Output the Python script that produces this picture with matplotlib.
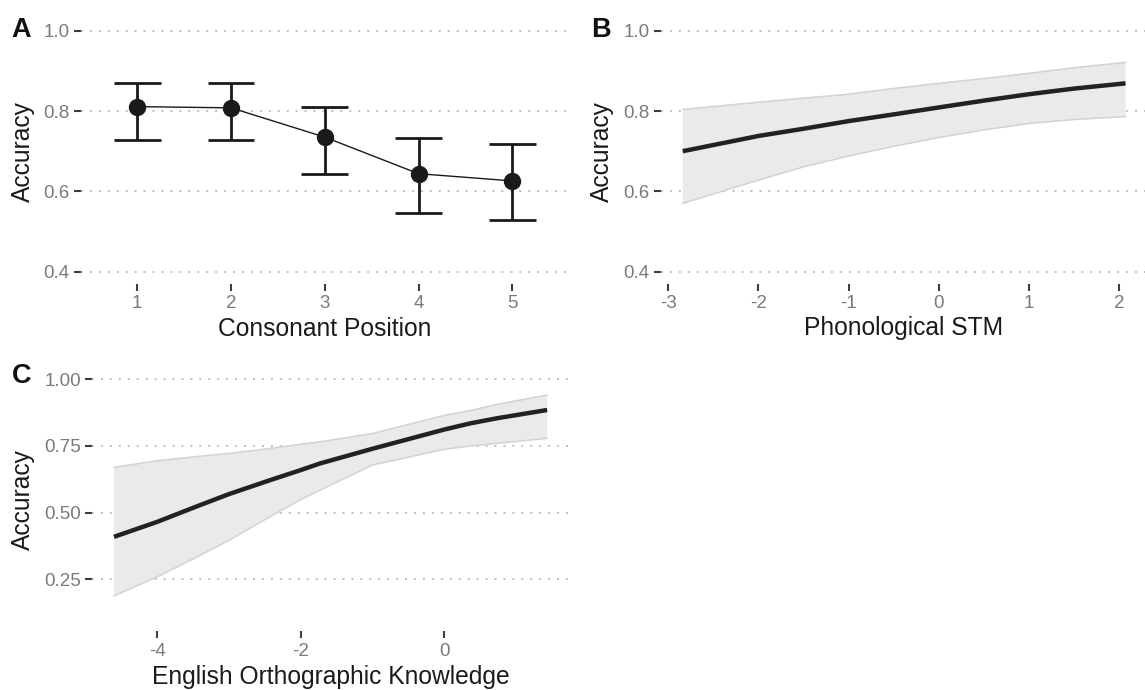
import matplotlib
matplotlib.use('Agg')
import matplotlib.pyplot as plt
import numpy as np

plt.rcParams['font.family'] = ['Liberation Sans', 'DejaVu Sans']
plt.rcParams['axes.unicode_minus'] = False

# Panel A: accuracy by consonant position (mean and interval)
pos = [1, 2, 3, 4, 5]
pos_acc = [0.811, 0.808, 0.735, 0.644, 0.626]
pos_lo = [0.729, 0.729, 0.644, 0.547, 0.528]
pos_hi = [0.869, 0.869, 0.809, 0.733, 0.717]

# Panel B: effect of phonological STM
stm_x = [-2.84, -2.0, -1.5, -1.0, -0.55, 0.0, 0.5, 1.0, 1.5, 2.07]
stm_fit = [0.700, 0.738, 0.756, 0.775, 0.790, 0.809, 0.826, 0.842, 0.856, 0.869]
stm_lo = [0.570, 0.628, 0.661, 0.688, 0.710, 0.734, 0.753, 0.769, 0.779, 0.786]
stm_hi = [0.804, 0.822, 0.832, 0.842, 0.855, 0.869, 0.881, 0.894, 0.908, 0.921]

# Panel C: effect of English orthographic knowledge
ortho_x = [-4.6, -4.0, -3.4, -3.0, -2.43, -2.0, -1.73, -1.0, 0.0, 0.36, 0.73, 1.43]
ortho_fit = [0.409, 0.465, 0.528, 0.569, 0.621, 0.659, 0.684, 0.739, 0.811, 0.834, 0.853, 0.884]
ortho_lo = [0.188, 0.259, 0.340, 0.396, 0.484, 0.549, 0.584, 0.678, 0.737, 0.749, 0.759, 0.778]
ortho_hi = [0.669, 0.694, 0.711, 0.721, 0.740, 0.756, 0.765, 0.796, 0.864, 0.882, 0.905, 0.940]

W, H = 1145, 690
TICK_C = '#3d3d3d'
LABEL_C = '#7a7a7a'
TEXT_C = '#1a1a1a'


def add_panel(fig, left, top, right, bottom):
	return fig.add_axes([left / W, 1 - bottom / H, (right - left) / W, (bottom - top) / H])


def expand(vals, frac=0.05):
	lo, hi = min(vals), max(vals)
	pad = (hi - lo) * frac
	return lo - pad, hi + pad


def style(ax, yticks, ylabels):
	for s in ax.spines.values():
		s.set_visible(False)
	ax.set_yticks(yticks)
	ax.set_yticklabels(ylabels)
	ax.tick_params(axis='both', direction='out', length=4.7, width=1.5, color=TICK_C,
				   labelcolor=LABEL_C, labelsize=13.5)
	ax.tick_params(axis='y', pad=3.4)
	ax.tick_params(axis='x', pad=3.4)
	ax.yaxis.grid(True, color='#c0c0c0', linewidth=1.4, linestyle=(0, (1.0, 3.6)))
	ax.xaxis.grid(False)
	ax.set_axisbelow(True)
	ax.patch.set_alpha(0)


def ribbon(ax, x, fit, lo, hi):
	ax.fill_between(x, lo, hi, facecolor='#e9ebea', edgecolor='none', zorder=1)
	ax.plot(x, lo, color='#d2d2d2', lw=1.1, zorder=2)
	ax.plot(x, hi, color='#d2d2d2', lw=1.1, zorder=2)
	ax.plot(x, fit, color='#222222', lw=3.2, solid_capstyle='butt', zorder=3)


fig = plt.figure(figsize=(W / 100, H / 100), dpi=100)

# A
ax1 = add_panel(fig, 81.05, 18.7, 568.55, 283.7)
yerr = [np.array(pos_acc) - np.array(pos_lo), np.array(pos_hi) - np.array(pos_acc)]
ax1.plot(pos, pos_acc, color='#1a1a1a', lw=1.0, zorder=2)
ax1.errorbar(pos, pos_acc, yerr=yerr, fmt='none', ecolor='#1a1a1a', elinewidth=2.0,
			 capsize=0, zorder=3)
for x, lo, hi in zip(pos, pos_lo, pos_hi):
	ax1.plot([x - 0.25, x + 0.25], [lo, lo], color='#1a1a1a', lw=2.0, solid_capstyle='butt', zorder=3)
	ax1.plot([x - 0.25, x + 0.25], [hi, hi], color='#1a1a1a', lw=2.0, solid_capstyle='butt', zorder=3)
ax1.plot(pos, pos_acc, 'o', color='#1a1a1a', markersize=11.5, zorder=4)
ax1.set_xlim(0.4, 5.6)
ax1.set_ylim(0.37, 1.03)
ax1.set_xticks(pos)
style(ax1, [0.4, 0.6, 0.8, 1.0], ['0.4', '0.6', '0.8', '1.0'])

# B
ax2 = add_panel(fig, 660.6, 18.7, 1147.7, 283.7)
ribbon(ax2, stm_x, stm_fit, stm_lo, stm_hi)
ax2.set_xlim(*expand(stm_x))
ax2.set_ylim(0.37, 1.03)
ax2.set_xticks([-3, -2, -1, 0, 1, 2])
style(ax2, [0.4, 0.6, 0.8, 1.0], ['0.4', '0.6', '0.8', '1.0'])

# C
ax3 = add_panel(fig, 92.3, 367.0, 568.8, 631.4)
ribbon(ax3, ortho_x, ortho_fit, ortho_lo, ortho_hi)
ax3.set_xlim(*expand(ortho_x))
ax3.set_ylim(0.055, 1.045)
ax3.set_xticks([-4, -2, 0])
style(ax3, [0.25, 0.5, 0.75, 1.0], ['0.25', '0.50', '0.75', '1.00'])

# axis titles and panel tags in pixel positions
def ftext(x, y, s, **kw):
	fig.text(x / W, 1 - y / H, s, **kw)

ftext(22.5, 151, 'Accuracy', rotation=90, ha='center', va='center', fontsize=17.7, color=TEXT_C)
ftext(602, 151, 'Accuracy', rotation=90, ha='center', va='center', fontsize=17.7, color=TEXT_C)
ftext(22.5, 499, 'Accuracy', rotation=90, ha='center', va='center', fontsize=17.7, color=TEXT_C)
ftext(324.8, 335.5, 'Consonant Position', ha='center', va='baseline', fontsize=17.7, color=TEXT_C)
ftext(904, 335.5, 'Phonological STM', ha='center', va='baseline', fontsize=17.7, color=TEXT_C)
ftext(330.5, 684, 'English Orthographic Knowledge', ha='center', va='baseline', fontsize=17.7, color=TEXT_C)
ftext(11.5, 36.7, 'A', ha='left', va='baseline', fontsize=19.5, fontweight='bold', color='#111111')
ftext(591, 36.7, 'B', ha='left', va='baseline', fontsize=19.5, fontweight='bold', color='#111111')
ftext(11.5, 383.3, 'C', ha='left', va='baseline', fontsize=19.5, fontweight='bold', color='#111111')

fig.savefig('out.png', dpi=100, facecolor='white')
